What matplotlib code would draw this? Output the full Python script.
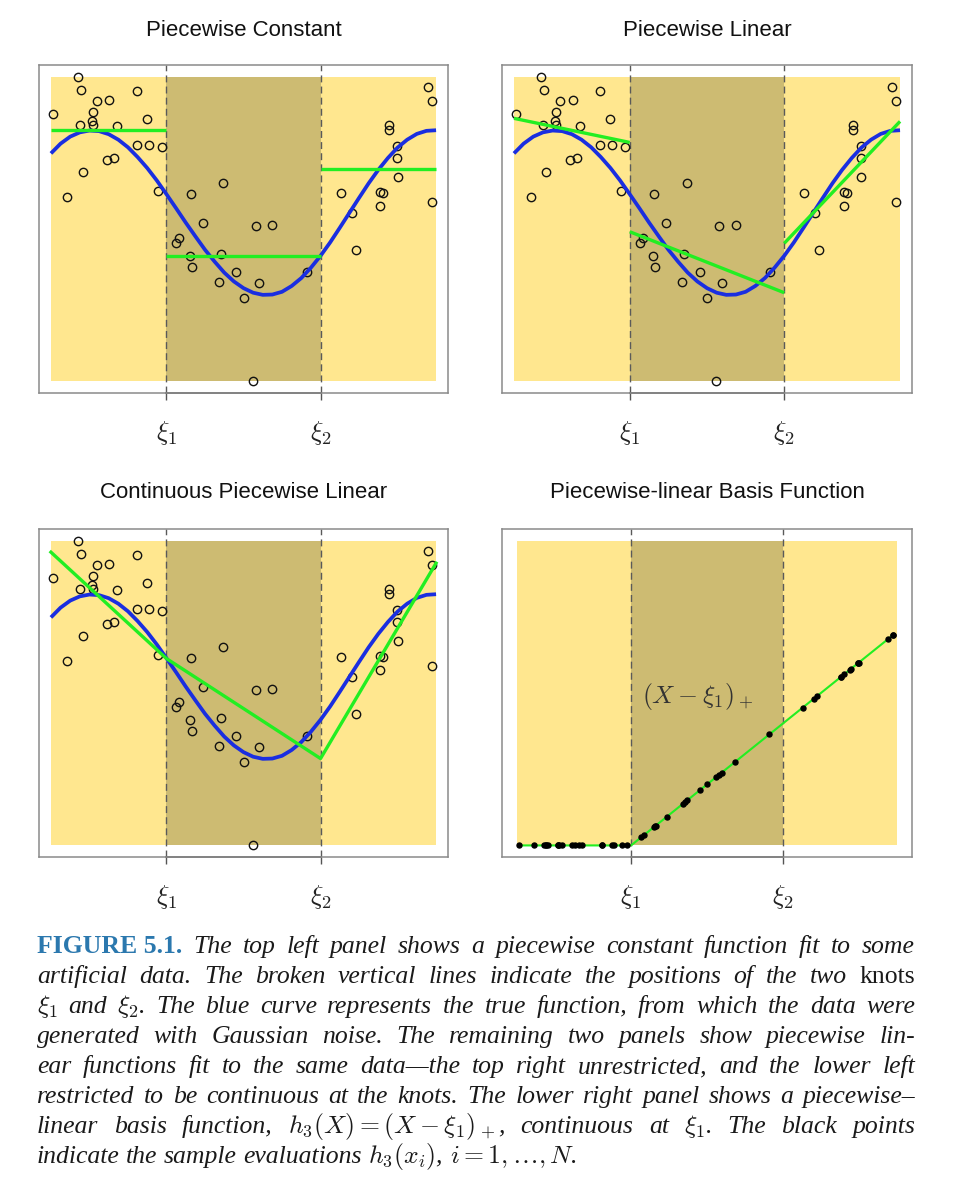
import numpy as np
import matplotlib
matplotlib.use("Agg")
import matplotlib.pyplot as plt
from matplotlib.font_manager import FontProperties

plt.rcParams["mathtext.fontset"] = "cm"

# sample data (x scaled to [0, 1])
x_pts = [0.070, 0.077, 0.119, 0.152, 0.224, 0.006, 0.108, 0.107, 0.110, 0.075,
         0.172, 0.250, 0.224, 0.254, 0.288, 0.145, 0.164, 0.082, 0.043, 0.277,
         0.363, 0.448, 0.394, 0.333, 0.326, 0.361, 0.365, 0.441, 0.481, 0.436,
         0.539, 0.500, 0.532, 0.574, 0.664, 0.524, 0.752, 0.781, 0.791, 0.854,
         0.862, 0.854, 0.879, 0.877, 0.898, 0.898, 0.900, 0.978, 0.990, 0.989]
y_pts = [0.999, 0.957, 0.921, 0.924, 0.954, 0.878, 0.885, 0.853, 0.842, 0.840,
         0.837, 0.862, 0.776, 0.776, 0.769, 0.725, 0.734, 0.688, 0.605, 0.625,
         0.615, 0.651, 0.520, 0.470, 0.454, 0.412, 0.375, 0.419, 0.359, 0.326,
         0.322, 0.273, 0.510, 0.513, 0.360, 0.000, 0.618, 0.553, 0.431, 0.622,
         0.618, 0.577, 0.842, 0.824, 0.773, 0.734, 0.669, 0.965, 0.921, 0.589]

# true function (blue curve), read at steps of 0.025
x_true = [0.000, 0.025, 0.050, 0.075, 0.100, 0.125, 0.150, 0.175, 0.200, 0.225,
          0.250, 0.275, 0.300, 0.325, 0.350, 0.375, 0.400, 0.425, 0.450, 0.475,
          0.500, 0.525, 0.550, 0.575, 0.600, 0.625, 0.650, 0.675, 0.700, 0.725,
          0.750, 0.775, 0.800, 0.825, 0.850, 0.875, 0.900, 0.925, 0.950, 0.975,
          1.000]
y_true = [0.748, 0.780, 0.803, 0.817, 0.823, 0.821, 0.811, 0.793, 0.768, 0.736,
          0.700, 0.659, 0.614, 0.568, 0.521, 0.476, 0.432, 0.393, 0.357, 0.328,
          0.306, 0.291, 0.284, 0.285, 0.294, 0.313, 0.339, 0.373, 0.412, 0.456,
          0.504, 0.553, 0.602, 0.650, 0.694, 0.733, 0.767, 0.793, 0.812, 0.822,
          0.824]

knots = [0.3, 0.7]
x_range = [0.0, 1.0]

# fitted values
const_levels = [0.825, 0.413, 0.697]
lin_start = [0.863, 0.491, 0.453]
lin_end = [0.784, 0.291, 0.853]
cont_vals = [0.962, 0.613, 0.285, 0.926]

yellow = "#FFE78F"
tan = "#CDBB72"
green = "#22EE22"
blue = "#1A2EE0"

W, H = 960, 1189
fig = plt.figure(figsize=(W / 100, H / 100), dpi=100)


def add_ax(l, t, r, b):
    return fig.add_axes([l / W, 1 - b / H, (r - l) / W, (b - t) / H])


def setup(ax, xlim, title, pad):
    ax.set_xlim(*xlim)
    ax.set_ylim(-0.038, 1.038)
    edges = [x_range[0]] + knots + [x_range[1]]
    for i in range(3):
        ax.fill_between(edges[i:i + 2], 0, 1, color=tan if i == 1 else yellow, lw=0)
    for k in knots:
        ax.axvline(k, color="#5a5a5a", lw=1.0, ls=(0, (5, 3)))
    for sp in ax.spines.values():
        sp.set_color("#8a8a8a")
        sp.set_linewidth(1.1)
    ax.plot(knots, [0, 0], transform=ax.get_xaxis_transform(), color="#555555",
            lw=1.2, clip_on=False)
    ax.set_yticks([])
    ax.set_xticks(knots, [r"$\xi_1$", r"$\xi_2$"])
    ax.tick_params(axis="x", length=5, width=1, color="#555555", pad=14,
                   labelsize=19, labelcolor="#222222")
    ax.set_title(title, fontsize=16, family="Liberation Sans", pad=pad, color="#111111")


def data_and_truth(ax):
    ax.plot(x_pts, y_pts, "o", mfc="none", mec="#111111", ms=6, mew=1.0)
    ax.plot(x_true, y_true, color=blue, lw=2.7, solid_capstyle="butt")


edges = [x_range[0]] + knots + [x_range[1]]

# top left: piecewise constant
ax1 = add_ax(39, 65, 448, 393)
setup(ax1, (-0.031, 1.031), "Piecewise Constant", 21)
data_and_truth(ax1)
for i, lev in enumerate(const_levels):
    ax1.plot(edges[i:i + 2], [lev, lev], color=green, lw=2.4, solid_capstyle="butt")

# top right: piecewise linear
ax2 = add_ax(502, 65, 912, 393)
setup(ax2, (-0.031, 1.031), "Piecewise Linear", 21)
data_and_truth(ax2)
for i in range(3):
    ax2.plot(edges[i:i + 2], [lin_start[i], lin_end[i]], color=green, lw=2.4,
             solid_capstyle="butt")

# bottom left: continuous piecewise linear
ax3 = add_ax(39, 529, 448, 857)
setup(ax3, (-0.031, 1.031), "Continuous Piecewise Linear", 22)
data_and_truth(ax3)
ax3.plot(edges, cont_vals, color=green, lw=2.4)

# bottom right: basis function
ax4 = add_ax(502, 529, 912, 857)
setup(ax4, (-0.04, 1.04), "Piecewise-linear Basis Function", 22)
xs = np.array(x_pts)
h3 = np.clip(xs - knots[0], 0, None)
line_x = [xs.min(), knots[0], xs.max()]
ax4.plot(line_x, np.clip(np.array(line_x) - knots[0], 0, None), color=green, lw=1.5)
ax4.plot(xs, h3, "o", color="black", ms=3.6)
ax4.text(0.33, 0.49, r"$(X-\xi_1)_+$", fontsize=18.5, color="#333333", va="center")

# caption, justified line by line
props = {
    "it": FontProperties(family="Liberation Serif", style="italic", size=18.5),
    "rm": FontProperties(family="Liberation Serif", size=18.5),
    "bf": FontProperties(family="Liberation Serif", weight="bold", size=18.5),
}


def words(s, sty="it"):
    return [(w, sty) for w in s.split()]


caption_lines = [
    [("FIGURE 5.1.", "bf")] + words("The top left panel shows a piecewise constant function fit to some"),
    words("artificial data. The broken vertical lines indicate the positions of the two") + [("knots", "rm")],
    [(r"$\xi_1$", "it")] + words("and") + [(r"$\xi_2$.", "it")]
    + words("The blue curve represents the true function, from which the data were"),
    words("generated with Gaussian noise. The remaining two panels show piecewise lin-"),
    words("ear functions fit to the same data\u2014the top right unrestricted, and the lower left"),
    words("restricted to be continuous at the knots. The lower right panel shows a piecewise\u2013"),
    words("linear basis function,") + [(r"$h_3(X)=(X-\xi_1)_+$,", "it")]
    + words("continuous at") + [(r"$\xi_1$.", "it")] + words("The black points"),
    words("indicate the sample evaluations") + [(r"$h_3(x_i)$,", "it"), (r"$i=1,\ldots,N$.", "it")],
]

cap_left, cap_right = 37, 915
base0, step = 953, 30
renderer = fig.canvas.get_renderer()

probe1 = fig.text(0, 0, "a a", fontproperties=props["it"])
probe2 = fig.text(0, 0, "aa", fontproperties=props["it"])
space = probe1.get_window_extent(renderer).width - probe2.get_window_extent(renderer).width
probe1.remove()
probe2.remove()

for i, line in enumerate(caption_lines):
    ybase = 1 - (base0 + i * step) / H
    texts = []
    for tok, sty in line:
        col = "#2B78AE" if sty == "bf" else "#1a1a1a"
        texts.append(fig.text(0, ybase, tok, fontproperties=props[sty], color=col,
                              va="baseline"))
    widths = [t.get_window_extent(renderer).width for t in texts]
    if i < len(caption_lines) - 1:
        gap = (cap_right - cap_left - sum(widths)) / (len(texts) - 1)
    else:
        gap = space
    xpos = cap_left
    for t, w in zip(texts, widths):
        t.set_x(xpos / W)
        xpos += w + gap

fig.savefig("out.png", dpi=100)
